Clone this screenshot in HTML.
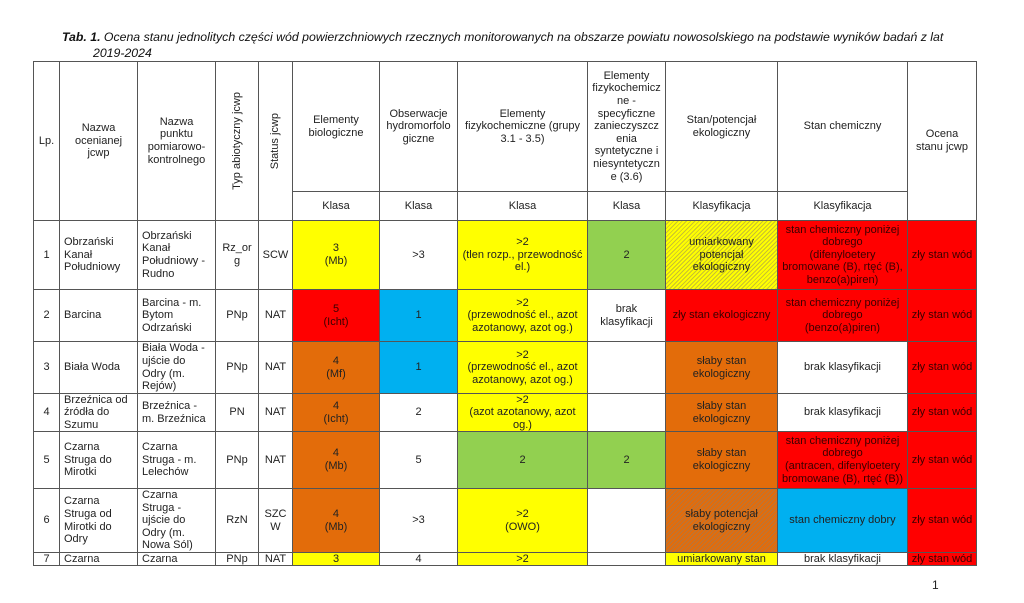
<!DOCTYPE html>
<html><head><meta charset="utf-8"><style>
body{margin:0;width:1024px;height:603px;background:#fff;position:relative;overflow:hidden;font-family:"Liberation Sans",Arial,sans-serif;}
.c{position:absolute;box-sizing:border-box;border:1.3px solid #555;display:flex;align-items:center;justify-content:center;text-align:center;font-size:11px;line-height:12.6px;color:#222;overflow:hidden;padding:0 2px;}
.l{justify-content:flex-start;text-align:left;padding-left:4px;}
.y{background:#ffff00}.r{background:#ff0000;color:#3a0000}.o{background:#e36c0a}.b{background:#00b0f0}.g{background:#92d050}
.hy{background:repeating-linear-gradient(135deg,#ffff00 0 2px,#c8c030 2px 3px)}
.ho{background:repeating-linear-gradient(135deg,#e36c0a 0 2px,#b8753a 2px 3px)}
.v{writing-mode:vertical-rl;transform:rotate(180deg);white-space:nowrap}
.t{position:absolute;left:62px;top:29px;font-size:12.3px;font-style:italic;line-height:16px;color:#111;white-space:nowrap}
</style></head><body>
<div class="t"><b>Tab. 1.</b> Ocena stanu jednolitych części wód powierzchniowych rzecznych monitorowanych na obszarze powiatu nowosolskiego na podstawie wyników badań z lat<br><span style="padding-left:31px">2019-2024</span></div>

<!-- header -->
<div class="c" style="left:33px;top:61px;width:27px;height:160px">Lp.</div>
<div class="c" style="left:59px;top:61px;width:79px;height:160px">Nazwa<br>ocenianej<br>jcwp</div>
<div class="c" style="left:137px;top:61px;width:79px;height:160px">Nazwa<br>punktu<br>pomiarowo-<br>kontrolnego</div>
<div class="c" style="left:215px;top:61px;width:44px;height:160px"><span class="v">Typ abiotyczny jcwp</span></div>
<div class="c" style="left:258px;top:61px;width:35px;height:160px"><span class="v">Status jcwp</span></div>
<div class="c" style="left:292px;top:61px;width:88px;height:131px">Elementy<br>biologiczne</div>
<div class="c" style="left:379px;top:61px;width:79px;height:131px">Obserwacje<br>hydromorfolo<br>giczne</div>
<div class="c" style="left:457px;top:61px;width:131px;height:131px">Elementy<br>fizykochemiczne (grupy<br>3.1 - 3.5)</div>
<div class="c" style="left:587px;top:61px;width:79px;height:131px">Elementy<br>fizykochemicz<br>ne -<br>specyficzne<br>zanieczyszcz<br>enia<br>syntetyczne i<br>niesyntetyczn<br>e (3.6)</div>
<div class="c" style="left:665px;top:61px;width:113px;height:131px">Stan/potencjał<br>ekologiczny</div>
<div class="c" style="left:777px;top:61px;width:131px;height:131px">Stan chemiczny</div>
<div class="c" style="left:907px;top:61px;width:70px;height:160px">Ocena<br>stanu jcwp</div>
<div class="c" style="left:292px;top:191px;width:88px;height:30px">Klasa</div>
<div class="c" style="left:379px;top:191px;width:79px;height:30px">Klasa</div>
<div class="c" style="left:457px;top:191px;width:131px;height:30px">Klasa</div>
<div class="c" style="left:587px;top:191px;width:79px;height:30px">Klasa</div>
<div class="c" style="left:665px;top:191px;width:113px;height:30px">Klasyfikacja</div>
<div class="c" style="left:777px;top:191px;width:131px;height:30px">Klasyfikacja</div>

<!-- row 1 -->
<div class="c" style="left:33px;top:220px;width:27px;height:70px">1</div>
<div class="c l" style="left:59px;top:220px;width:79px;height:70px">Obrzański<br>Kanał<br>Południowy</div>
<div class="c l" style="left:137px;top:220px;width:79px;height:70px">Obrzański<br>Kanał<br>Południowy -<br>Rudno</div>
<div class="c" style="left:215px;top:220px;width:44px;height:70px">Rz_or<br>g</div>
<div class="c" style="left:258px;top:220px;width:35px;height:70px">SCW</div>
<div class="c y" style="left:292px;top:220px;width:88px;height:70px">3<br>(Mb)</div>
<div class="c" style="left:379px;top:220px;width:79px;height:70px">&gt;3</div>
<div class="c y" style="left:457px;top:220px;width:131px;height:70px">&gt;2<br>(tlen rozp., przewodność<br>el.)</div>
<div class="c g" style="left:587px;top:220px;width:79px;height:70px">2</div>
<div class="c hy" style="left:665px;top:220px;width:113px;height:70px">umiarkowany<br>potencjał<br>ekologiczny</div>
<div class="c r" style="left:777px;top:220px;width:131px;height:70px">stan chemiczny poniżej<br>dobrego<br>(difenyloetery<br>bromowane (B), rtęć (B),<br>benzo(a)piren)</div>
<div class="c r" style="left:907px;top:220px;width:70px;height:70px">zły stan wód</div>

<!-- row 2 -->
<div class="c" style="left:33px;top:289px;width:27px;height:53px">2</div>
<div class="c l" style="left:59px;top:289px;width:79px;height:53px">Barcina</div>
<div class="c l" style="left:137px;top:289px;width:79px;height:53px">Barcina - m.<br>Bytom<br>Odrzański</div>
<div class="c" style="left:215px;top:289px;width:44px;height:53px">PNp</div>
<div class="c" style="left:258px;top:289px;width:35px;height:53px">NAT</div>
<div class="c r" style="left:292px;top:289px;width:88px;height:53px">5<br>(Icht)</div>
<div class="c b" style="left:379px;top:289px;width:79px;height:53px">1</div>
<div class="c y" style="left:457px;top:289px;width:131px;height:53px">&gt;2<br>(przewodność el., azot<br>azotanowy, azot og.)</div>
<div class="c" style="left:587px;top:289px;width:79px;height:53px">brak<br>klasyfikacji</div>
<div class="c r" style="left:665px;top:289px;width:113px;height:53px">zły stan ekologiczny</div>
<div class="c r" style="left:777px;top:289px;width:131px;height:53px">stan chemiczny poniżej<br>dobrego<br>(benzo(a)piren)</div>
<div class="c r" style="left:907px;top:289px;width:70px;height:53px">zły stan wód</div>

<!-- row 3 -->
<div class="c" style="left:33px;top:341px;width:27px;height:53px">3</div>
<div class="c l" style="left:59px;top:341px;width:79px;height:53px">Biała Woda</div>
<div class="c l" style="left:137px;top:341px;width:79px;height:53px">Biała Woda -<br>ujście do<br>Odry (m.<br>Rejów)</div>
<div class="c" style="left:215px;top:341px;width:44px;height:53px">PNp</div>
<div class="c" style="left:258px;top:341px;width:35px;height:53px">NAT</div>
<div class="c o" style="left:292px;top:341px;width:88px;height:53px">4<br>(Mf)</div>
<div class="c b" style="left:379px;top:341px;width:79px;height:53px">1</div>
<div class="c y" style="left:457px;top:341px;width:131px;height:53px">&gt;2<br>(przewodność el., azot<br>azotanowy, azot og.)</div>
<div class="c" style="left:587px;top:341px;width:79px;height:53px"></div>
<div class="c o" style="left:665px;top:341px;width:113px;height:53px">słaby stan<br>ekologiczny</div>
<div class="c" style="left:777px;top:341px;width:131px;height:53px">brak klasyfikacji</div>
<div class="c r" style="left:907px;top:341px;width:70px;height:53px">zły stan wód</div>

<!-- row 4 -->
<div class="c" style="left:33px;top:393px;width:27px;height:39px">4</div>
<div class="c l" style="left:59px;top:393px;width:79px;height:39px">Brzeźnica od<br>źródła do<br>Szumu</div>
<div class="c l" style="left:137px;top:393px;width:79px;height:39px">Brzeźnica -<br>m. Brzeźnica</div>
<div class="c" style="left:215px;top:393px;width:44px;height:39px">PN</div>
<div class="c" style="left:258px;top:393px;width:35px;height:39px">NAT</div>
<div class="c o" style="left:292px;top:393px;width:88px;height:39px">4<br>(Icht)</div>
<div class="c" style="left:379px;top:393px;width:79px;height:39px">2</div>
<div class="c y" style="left:457px;top:393px;width:131px;height:39px">&gt;2<br>(azot azotanowy, azot<br>og.)</div>
<div class="c" style="left:587px;top:393px;width:79px;height:39px"></div>
<div class="c o" style="left:665px;top:393px;width:113px;height:39px">słaby stan<br>ekologiczny</div>
<div class="c" style="left:777px;top:393px;width:131px;height:39px">brak klasyfikacji</div>
<div class="c r" style="left:907px;top:393px;width:70px;height:39px">zły stan wód</div>

<!-- row 5 -->
<div class="c" style="left:33px;top:431px;width:27px;height:58px">5</div>
<div class="c l" style="left:59px;top:431px;width:79px;height:58px">Czarna<br>Struga do<br>Mirotki</div>
<div class="c l" style="left:137px;top:431px;width:79px;height:58px">Czarna<br>Struga - m.<br>Lelechów</div>
<div class="c" style="left:215px;top:431px;width:44px;height:58px">PNp</div>
<div class="c" style="left:258px;top:431px;width:35px;height:58px">NAT</div>
<div class="c o" style="left:292px;top:431px;width:88px;height:58px">4<br>(Mb)</div>
<div class="c" style="left:379px;top:431px;width:79px;height:58px">5</div>
<div class="c g" style="left:457px;top:431px;width:131px;height:58px">2</div>
<div class="c g" style="left:587px;top:431px;width:79px;height:58px">2</div>
<div class="c o" style="left:665px;top:431px;width:113px;height:58px">słaby stan<br>ekologiczny</div>
<div class="c r" style="left:777px;top:431px;width:131px;height:58px">stan chemiczny poniżej<br>dobrego<br>(antracen, difenyloetery<br>bromowane (B), rtęć (B))</div>
<div class="c r" style="left:907px;top:431px;width:70px;height:58px">zły stan wód</div>

<!-- row 6 -->
<div class="c" style="left:33px;top:488px;width:27px;height:65px">6</div>
<div class="c l" style="left:59px;top:488px;width:79px;height:65px">Czarna<br>Struga od<br>Mirotki do<br>Odry</div>
<div class="c l" style="left:137px;top:488px;width:79px;height:65px">Czarna<br>Struga -<br>ujście do<br>Odry (m.<br>Nowa Sól)</div>
<div class="c" style="left:215px;top:488px;width:44px;height:65px">RzN</div>
<div class="c" style="left:258px;top:488px;width:35px;height:65px">SZC<br>W</div>
<div class="c o" style="left:292px;top:488px;width:88px;height:65px">4<br>(Mb)</div>
<div class="c" style="left:379px;top:488px;width:79px;height:65px">&gt;3</div>
<div class="c y" style="left:457px;top:488px;width:131px;height:65px">&gt;2<br>(OWO)</div>
<div class="c" style="left:587px;top:488px;width:79px;height:65px"></div>
<div class="c ho" style="left:665px;top:488px;width:113px;height:65px">słaby potencjał<br>ekologiczny</div>
<div class="c b" style="left:777px;top:488px;width:131px;height:65px">stan chemiczny dobry</div>
<div class="c r" style="left:907px;top:488px;width:70px;height:65px">zły stan wód</div>

<!-- row 7 -->
<div class="c" style="left:33px;top:552px;width:27px;height:14px">7</div>
<div class="c l" style="left:59px;top:552px;width:79px;height:14px">Czarna</div>
<div class="c l" style="left:137px;top:552px;width:79px;height:14px">Czarna</div>
<div class="c" style="left:215px;top:552px;width:44px;height:14px">PNp</div>
<div class="c" style="left:258px;top:552px;width:35px;height:14px">NAT</div>
<div class="c y" style="left:292px;top:552px;width:88px;height:14px">3</div>
<div class="c" style="left:379px;top:552px;width:79px;height:14px">4</div>
<div class="c y" style="left:457px;top:552px;width:131px;height:14px">&gt;2</div>
<div class="c" style="left:587px;top:552px;width:79px;height:14px"></div>
<div class="c y" style="left:665px;top:552px;width:113px;height:14px">umiarkowany stan</div>
<div class="c" style="left:777px;top:552px;width:131px;height:14px">brak klasyfikacji</div>
<div class="c r" style="left:907px;top:552px;width:70px;height:14px">zły stan wód</div>

<div style="position:absolute;left:932px;top:578px;font-size:12px;color:#222">1</div>
</body></html>
